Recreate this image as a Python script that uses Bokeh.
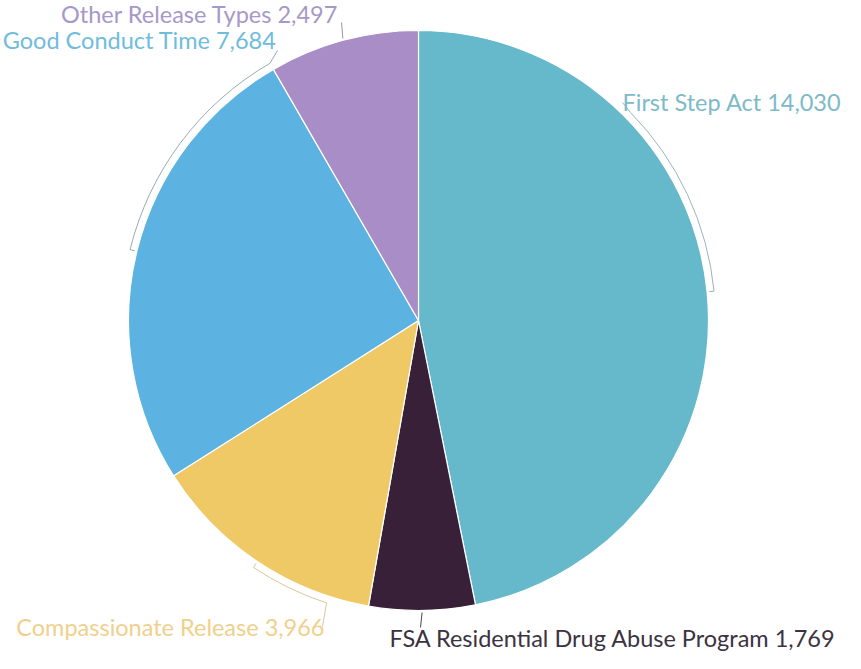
import numpy as np
from bokeh.plotting import figure
from bokeh.models import ColumnDataSource
from bokeh.core.properties import value
from bokeh.embed import file_html
from bokeh.resources import INLINE

# ---- data ----
categories = ["First Step Act", "FSA Residential Drug Abuse Program",
              "Compassionate Release", "Good Conduct Time", "Other Release Types"]
values = [14030, 1769, 3966, 7684, 2497]
slice_colors = ["#65b9cb", "#372038", "#efc966", "#5cb3e1", "#a98dc6"]
label_colors = ["#7dbac8", "#3b3340", "#f0d08c", "#70bcdc", "#a698c8"]
leader_colors = ["#9bb3ba", "#4a4450", "#d9c89a", "#9aaab4", "#9c94ac"]

# ---- layout (picture px -> data units, y up) ----
W, H = 845, 653
def dx(X):
    return X
def dy(Y):
    return H - Y

cx, cy, R = dx(418), dy(320), 290

vals = np.array(values, dtype=float)
frac = vals / vals.sum()
ends = np.cumsum(frac) * 360.0
starts = np.concatenate([[0.0], ends[:-1]])
# clockwise-from-top degrees -> math radians
def ang(deg):
    return np.radians(90.0 - np.asarray(deg))

p = figure(width=W, height=H, x_range=(0, W), y_range=(0, H),
           output_backend="svg", toolbar_location=None, min_border=0)
p.axis.visible = False
p.grid.visible = False
p.outline_line_color = None
p.background_fill_color = "white"
p.border_fill_color = "white"

src = ColumnDataSource(dict(start=ang(starts), end=ang(ends), color=slice_colors))
p.wedge(x=cx, y=cy, radius=R, start_angle="start", end_angle="end",
        direction="clock", fill_color="color", line_color="white",
        line_width=1.2, source=src)

# ---- leader brackets (fractions of each slice's span) ----
arc_r = R + 7
brackets = {0: (0.27, 0.50), 2: (0.17, 0.50), 3: (0.50, 1.0)}
hook_end = {0: 1, 2: 1, 3: 0}
for i, (f0, f1) in brackets.items():
    a0 = starts[i] + f0 * (ends[i] - starts[i])
    a1 = starts[i] + f1 * (ends[i] - starts[i])
    p.arc(x=cx, y=cy, radius=arc_r, start_angle=float(ang(a0)), end_angle=float(ang(a1)),
          direction="clock", line_color=leader_colors[i], line_width=1)
    h = a1 if hook_end[i] == 1 else a0
    t = float(ang(h))
    p.line([cx + arc_r * np.cos(t), cx + (R + 2) * np.cos(t)],
           [cy + arc_r * np.sin(t), cy + (R + 2) * np.sin(t)],
           line_color=leader_colors[i], line_width=1)

# leader tails to labels (picture coords of label anchors)
tail_pts = {0: (622, 102), 2: (322, 626), 3: (277, 50)}
for i, (X, Y) in tail_pts.items():
    f = brackets[i][0] if hook_end[i] == 1 else brackets[i][1]
    a = starts[i] + f * (ends[i] - starts[i])
    t = float(ang(a))
    p.line([cx + arc_r * np.cos(t), dx(X)], [cy + arc_r * np.sin(t), dy(Y)],
           line_color=leader_colors[i], line_width=1)

# small slices: straight radial leaders from the mid angle
for i, (X, Y) in {1: (420, 627), 4: (341, 22)}.items():
    t = float(ang((starts[i] + ends[i]) / 2))
    p.line([cx + (R + 2) * np.cos(t), dx(X)], [cy + (R + 2) * np.sin(t), dy(Y)],
           line_color=leader_colors[i], line_width=1)

# ---- labels (baseline positions, compensated for renderer offset) ----
label_pos = [(622, 101, "left"), (389, 637, "left"), (324, 626, "right"),
             (276, 39, "right"), (338, 13, "right")]
for i, (X, Y, al) in enumerate(label_pos):
    p.text(x=[dx(X)], y=[dy(Y)], text=[f"{categories[i]} {values[i]:,}"],
           text_font=value("Lato"), text_font_size="23.5px", text_align=al,
           text_baseline="alphabetic", text_color=label_colors[i])

open("out.html", "w").write(file_html(p, INLINE))
